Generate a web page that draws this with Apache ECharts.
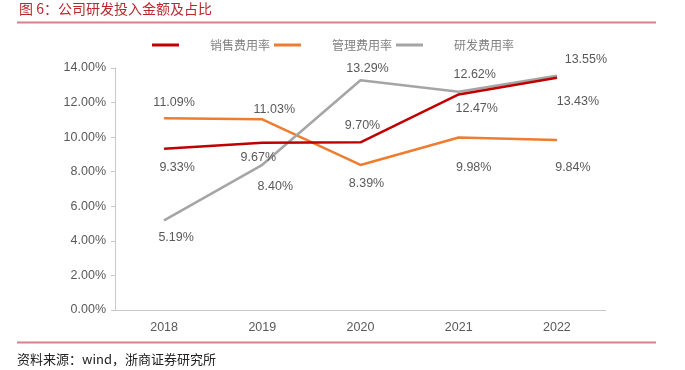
<!DOCTYPE html>
<html>
<head>
<meta charset="utf-8">
<script src="https://cdn.jsdelivr.net/npm/echarts@6/dist/echarts.min.js"></script>
<style>
html,body{margin:0;padding:0;background:#fff;}
#chart{width:685px;height:370px;}
</style>
</head>
<body>
<div id="chart"></div>
<script>
const categories = ['2018', '2019', '2020', '2021', '2022'];
const seriesNames = ['销售费用率', '管理费用率', '研发费用率'];
const salesRate = [9.33, 9.67, 9.70, 12.47, 13.43];
const adminRate = [11.09, 11.03, 8.39, 9.98, 9.84];
const rdRate = [5.19, 8.40, 13.29, 12.62, 13.55];
const yTicks = [0, 2, 4, 6, 8, 10, 12, 14];

const titleText = '图 6：公司研发投入金额及占比';
const sourceText = '资料来源：wind，浙商证券研究所';

// label placement (style, not data)
const labelOffsets = {
  sales: [[13, 19], [-4, 15], [2, -17], [18, 14], [21, 24]],
  admin: [[10, -16], [12, -10], [6, 19], [15, 30], [16, 28]],
  rd:    [[12, 17], [13, 22], [7, -12], [16, -17], [29, -16]]
};

const colors = ['#c00000', '#ed7d31', '#a5a5a5'];

function buildData(values, offsets) {
  return values.map((v, i) => ({
    value: v,
    label: { offset: offsets[i] }
  }));
}

function makeSeries(name, values, offsets, color, z) {
  return {
    name: name,
    type: 'line',
    data: buildData(values, offsets),
    symbol: 'circle',
    symbolSize: 1,
    showSymbol: true,
    z: z,
    lineStyle: { width: 2.5, color: color },
    itemStyle: { color: color },
    label: {
      show: true,
      position: 'inside',
      color: '#595959',
      fontSize: 12.5,
      fontFamily: 'Liberation Sans, Arial, sans-serif',
      formatter: p => p.value.toFixed(2) + '%'
    },
    emphasis: { disabled: true },
    animation: false
  };
}

const chart = echarts.init(document.getElementById('chart'), null, { renderer: 'canvas' });
chart.setOption({
  animation: false,
  color: colors,
  grid: { left: 115, right: 79, top: 68, bottom: 60, containLabel: false },
  legend: {
    data: seriesNames,
    left: 147,
    top: 34,
    icon: 'rect',
    itemWidth: 27,
    itemHeight: 3,
    itemGap: 4,
    textStyle: {
      color: '#808080',
      fontSize: 12,
      fontFamily: 'Noto Sans CJK SC',
      padding: [0, 0, 0, 26]
    }
  },
  xAxis: {
    type: 'category',
    data: categories,
    boundaryGap: true,
    axisLine: { lineStyle: { color: '#c8c8c8', width: 1 } },
    axisTick: { show: false },
    axisLabel: { color: '#595959', fontSize: 12.5, margin: 11, fontFamily: 'Liberation Sans, Arial, sans-serif' }
  },
  yAxis: {
    type: 'value',
    min: yTicks[0],
    max: yTicks[yTicks.length - 1],
    interval: 2,
    axisLine: { show: true, lineStyle: { color: '#c8c8c8', width: 1 } },
    axisTick: { show: true, length: 4, lineStyle: { color: '#c8c8c8' } },
    splitLine: { show: false },
    axisLabel: {
      color: '#595959', fontSize: 12.5, margin: 9,
      fontFamily: 'Liberation Sans, Arial, sans-serif',
      formatter: v => v.toFixed(2) + '%'
    }
  },
  series: [
    makeSeries(seriesNames[0], salesRate, labelOffsets.sales, colors[0], 4),
    makeSeries(seriesNames[1], adminRate, labelOffsets.admin, colors[1], 2),
    makeSeries(seriesNames[2], rdRate, labelOffsets.rd, colors[2], 3)
  ],
  graphic: [
    {
      type: 'text', left: 19, top: 2,
      style: { text: titleText, fill: '#b8282e', fontSize: 14, fontFamily: 'Noto Sans CJK SC' }
    },
    {
      type: 'line', shape: { x1: 17, y1: 22.5, x2: 656, y2: 22.5 },
      style: { stroke: '#d98088', lineWidth: 2 }
    },
    {
      type: 'line', shape: { x1: 17, y1: 342.5, x2: 656, y2: 342.5 },
      style: { stroke: '#d98088', lineWidth: 2 }
    },
    {
      type: 'text', left: 17, top: 353,
      style: { text: sourceText, fill: '#222222', fontSize: 13, fontFamily: 'Noto Sans CJK SC' }
    }
  ]
});
</script>
</body>
</html>
